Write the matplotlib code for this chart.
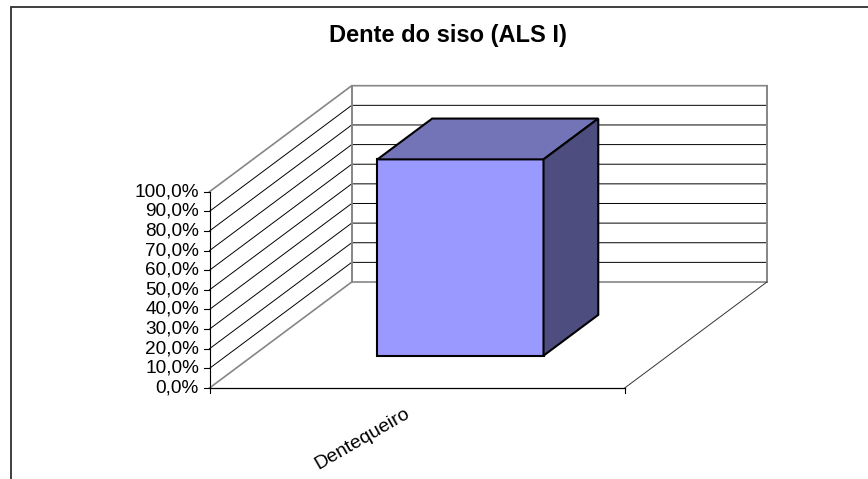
import matplotlib
matplotlib.use("Agg")
import matplotlib.pyplot as plt
from matplotlib.patches import Polygon

plt.rcParams['font.family'] = ['Liberation Sans', 'DejaVu Sans']

title = "Dente do siso (ALS I)"
categories = ["Dentequeiro"]
values = [100.0]
tick_values = [0, 10, 20, 30, 40, 50, 60, 70, 80, 90, 100]

# chart geometry in pixels, the picture is a fake 3D excel chart
WIDTH, HEIGHT = 868, 479
X0, X1 = 209.5, 624.7
Y0, Y100 = 388.0, 191.7
DEPTH_X, DEPTH_Y = 142.2, -106.0
GAP = 0.30
BAR_DEPTH = (0.305, 0.69)


def project(xfrac, value, depth):
    # goes from chart space (x share, percent, depth share) to pixels
    x = X0 + (X1 - X0) * xfrac + DEPTH_X * depth
    y = Y0 + (Y100 - Y0) * value / 100 + DEPTH_Y * depth
    return x, y


fig = plt.figure(figsize=(WIDTH / 100, HEIGHT / 100), dpi=100)
ax = fig.add_axes([0, 0, 1, 1])
ax.set_xlim(0, WIDTH)
ax.set_ylim(HEIGHT, 0)
ax.axis("off")

# outer chart frame, only the top and left edges are in the picture
ax.plot([WIDTH, 11, 11], [6.5, 6.5, HEIGHT], color="#303030", linewidth=1.3, solid_joinstyle="miter")
ax.text(447.5, 35, title, ha="center", va="center", fontsize=17, fontweight="bold", color="black")

# gridlines on the side wall and the back wall
for v in tick_values:
    is_edge = v in (tick_values[0], tick_values[-1])
    color = "#868686" if is_edge else "black"
    lw = 1.2 if is_edge else 0.7
    pts = [project(0, v, 0), project(0, v, 1), project(1, v, 1)]
    ax.plot(*zip(*pts), color=color, linewidth=lw, zorder=1)
    ax.plot(*zip(project(0, v, 0), (X0 - 5.5, project(0, v, 0)[1])), color="black", linewidth=0.8, zorder=1)
    ax.text(X0 - 10.5, project(0, v, 0)[1], f"{v},0%", ha="right", va="center", fontsize=13.7, color="black")

# wall verticals and the floor
ax.plot(*zip(project(0, 0, 1), project(0, 100, 1)), color="#868686", linewidth=1.4, zorder=1)
ax.plot(*zip(project(1, 0, 1), project(1, 100, 1)), color="#868686", linewidth=1.4, zorder=1)
ax.plot(*zip(project(1, 0, 0), project(1, 0, 1)), color="#333333", linewidth=0.7, zorder=1)

# axes lines and the end tick
ax.plot(*zip(project(0, 0, 0), project(0, 100, 0)), color="black", linewidth=0.8, zorder=2)
ax.plot(*zip(project(0, 0, 0), project(1, 0, 0)), color="black", linewidth=0.9, zorder=2)
ax.plot([X0, X0], [Y0, Y0 + 5], color="black", linewidth=0.8, zorder=2)
ax.plot([X1, X1], [Y0, Y0 + 5], color="black", linewidth=0.8, zorder=2)

# bar faces: front, top and side
for i, value in enumerate(values):
    left = (i + GAP) / len(values)
    right = (i + 1 - GAP) / len(values)
    d0, d1 = BAR_DEPTH
    front = [project(left, 0, d0), project(right, 0, d0), project(right, value, d0), project(left, value, d0)]
    top = [project(left, value, d0), project(right, value, d0), project(right, value, d1), project(left, value, d1)]
    side = [project(right, 0, d0), project(right, 0, d1), project(right, value, d1), project(right, value, d0)]
    for pts, face in ((front, "#9999FF"), (top, "#7373B8"), (side, "#4D4D80")):
        ax.add_patch(Polygon(pts, closed=True, facecolor=face, edgecolor="black", linewidth=1.5, joinstyle="miter", zorder=3))

    ax.text(362, 439, categories[i], rotation=30, rotation_mode="anchor", ha="center", va="center", fontsize=14, color="black")

fig.savefig("out.png", dpi=100)
